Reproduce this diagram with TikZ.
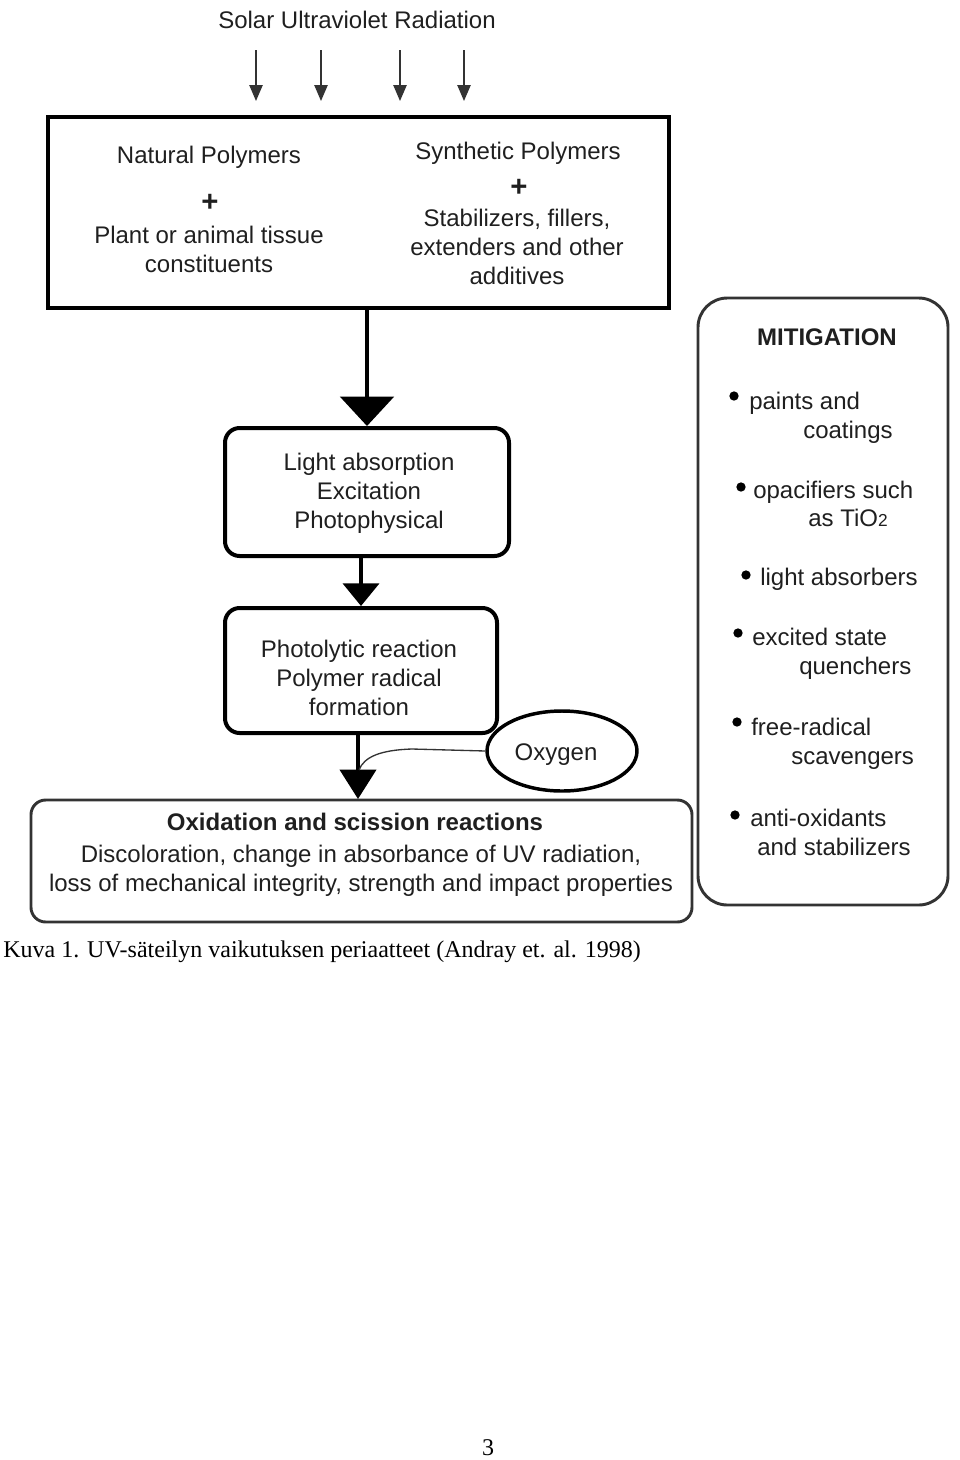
\documentclass[tikz,border=0pt]{standalone}
\usepackage{fontspec}
\setmainfont{Liberation Sans}
\newfontfamily\capfont{Liberation Serif}
\usetikzlibrary{arrows.meta,shapes.geometric,calc}
\begin{document}
\begin{tikzpicture}[x=0.75pt,y=-0.75pt,
  txt/.style={inner sep=0pt, anchor=base, font=\fontsize{18}{21.75}\selectfont, text=black!88},
  ltxt/.style={txt, anchor=base west},
  boldtxt/.style={txt, font=\fontsize{18}{21.75}\selectfont\bfseries},
  plustxt/.style={txt, font=\fontsize{22}{24}\selectfont\bfseries},
  sharpbox/.style={draw, line width=3pt, inner sep=0pt},
  roundbox/.style={draw, line width=3pt, rounded corners=11pt, inner sep=0pt},
  softbox/.style={draw=black!80, line width=2.2pt, rounded corners=11pt, inner sep=0pt},
  uvarrow/.style={draw=black!80, line width=1.1pt, -{Triangle[width=10pt,length=12pt]}},
  bullet/.style={circle, fill=black, inner sep=0pt, minimum size=7pt}
]
\useasboundingbox (0,0) rectangle (960,1460);

% title and UV arrows
\node[txt] (title) at (357,28) {Solar Ultraviolet Radiation};
\foreach \i/\x in {1/256,2/321,3/400,4/464}{
  \coordinate (u\i) at (\x,50);
  \coordinate (v\i) at (\x,101);
  \draw[uvarrow] (u\i) -- (v\i);
}

% top box
\node[sharpbox, minimum width=621*0.75pt, minimum height=191*0.75pt] (top) at (358.5,212.5) {};
\node[txt] (nat1) at (209,163) {Natural Polymers};
\node[plustxt] (plus1) at (210,211) {+};
\node[txt] (nat2) at (209,243) {Plant or animal tissue};
\node[txt] (nat3) at (209,272) {constituents};
\node[txt] (syn1) at (518,159) {Synthetic Polymers};
\node[plustxt] (plus2) at (519,196) {+};
\node[txt] (syn2) at (517,226) {Stabilizers, fillers,};
\node[txt] (syn3) at (517,255) {extenders and other};
\node[txt] (syn4) at (517,284) {additives};

% box 2
\node[roundbox, minimum width=284*0.75pt, minimum height=128*0.75pt] (la) at (367,492) {};
\node[txt] (la1) at (369,470) {Light absorption};
\node[txt] (la2) at (369,499) {Excitation};
\node[txt] (la3) at (369,528) {Photophysical};

% box 3
\node[roundbox, minimum width=272*0.75pt, minimum height=125*0.75pt] (pr) at (361,670.5) {};
\node[txt] (pr1) at (359,657) {Photolytic reaction};
\node[txt] (pr2) at (359,686) {Polymer radical};
\node[txt] (pr3) at (359,715) {formation};

% oxygen
\node[ellipse, draw, line width=2.6pt, minimum width=150*0.75pt, minimum height=80*0.75pt, inner sep=0pt] (ox) at (562,751) {};
\node[txt] (oxt) at (556,760) {Oxygen};

% bottom box
\node[softbox, minimum width=661*0.75pt, minimum height=122*0.75pt] (oxi) at (361.5,861) {};
\node[boldtxt] (oxi1) at (355,830) {Oxidation and scission reactions};
\node[txt] (oxi2) at (361,862) {Discoloration, change in absorbance of UV radiation,};
\node[txt] (oxi3) at (361,891) {loss of mechanical integrity, strength and impact properties};

% mitigation box
\node[softbox, rounded corners=22pt, minimum width=250*0.75pt, minimum height=607*0.75pt] (mit) at (823,601.5) {};
\node[boldtxt] (mitt) at (827,345) {MITIGATION};
\node[bullet] (b1) at (734,396) {};
\node[ltxt] (m1a) at (749,409) {paints and};
\node[ltxt] (m1b) at (803,438) {coatings};
\node[bullet] (b2) at (741,487) {};
\node[ltxt] (m2a) at (753,498) {opacifiers such};
\node[ltxt] (m2b) at (808,526) {as TiO{\fontsize{13}{15}\selectfont 2}};
\node[bullet] (b3) at (746,575) {};
\node[ltxt] (m3a) at (760,585) {light absorbers};
\node[bullet] (b4) at (738,633) {};
\node[ltxt] (m4a) at (752,645) {excited state};
\node[ltxt] (m4b) at (799,674) {quenchers};
\node[bullet] (b5) at (737,722) {};
\node[ltxt] (m5a) at (751,735) {free-radical};
\node[ltxt] (m5b) at (791,764) {scavengers};
\node[bullet] (b6) at (735,815) {};
\node[ltxt] (m6a) at (750,826) {anti-oxidants};
\node[ltxt] (m6b) at (757,855) {and stabilizers};

% connectors
\draw[line width=3pt, -{Triangle[width=40pt,length=22pt]}] (la.north |- top.south) -- (la.north);
\draw[line width=3pt, -{Triangle[width=27pt,length=17pt]}] (pr.north |- la.south) -- (pr.north);
\coordinate (p3s) at (358,733);
\coordinate (p3e) at (358,799);
\draw[line width=3pt, -{Triangle[width=27pt,length=22pt]}] (p3s) -- (p3e);
\coordinate (join) at (359,770);
\draw[line width=1pt, black!80] (ox.west) -- (412,749) .. controls (380,750) and (364,757) .. (join);

% caption and page number
\node[anchor=base west, inner sep=0pt, font=\capfont\fontsize{18}{20}\selectfont] (cap) at (3,957) {Kuva 1. UV-säteilyn vaikutuksen periaatteet (Andray et. al. 1998)};
\node[anchor=base, inner sep=0pt, font=\capfont\fontsize{18}{20}\selectfont] (pg) at (488,1455) {3};
\end{tikzpicture}
\end{document}
